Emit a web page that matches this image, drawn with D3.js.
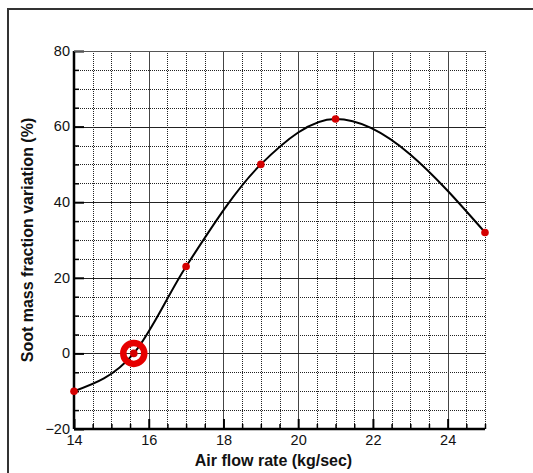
<!DOCTYPE html>
<html>
<head>
<meta charset="utf-8">
<script src="https://cdn.jsdelivr.net/npm/d3@7"></script>
<style>
  html, body { margin: 0; padding: 0; background: #fff; }
  svg { display: block; font-family: "Liberation Sans", Arial, sans-serif; }
</style>
</head>
<body>
<svg id="chart" width="533" height="473"></svg>
<script>
// Air flow rate (kg/sec) vs. soot mass fraction variation (%)
const airFlow = [14, 15.6, 17, 19, 21, 25];
const sootVariation = [-10, 0, 23, 50, 62, 32];
const highlighted = [15.6]; // reference (zero-variation) operating point

const xTicks = [14, 16, 18, 20, 22, 24];
const yTicks = [-20, 0, 20, 40, 60, 80];

const data = airFlow.map((x, i) => ({ x, y: sootVariation[i] }));

const svg = d3.select("#chart");
const W = 533, H = 473;
const m = { left: 74, right: W - 485, top: 51, bottom: H - 429 };

const x = d3.scaleLinear().domain([14, 25]).range([m.left, W - m.right]);
const y = d3.scaleLinear().domain([-20, 80]).range([H - m.bottom, m.top]);

// outer frame
svg.append("rect")
  .attr("x", 8).attr("y", 9)
  .attr("width", W).attr("height", H)
  .attr("fill", "none").attr("stroke", "#333").attr("stroke-width", 2);

const g = svg.append("g");

// minor grid (dotted), every 0.5 in x and 5 in y
const xMinor = d3.range(14.5, 25.01, 0.5).filter(v => Math.abs(v % 2) > 1e-9);
const yMinor = d3.range(-15, 80.01, 5).filter(v => Math.abs(v % 20) > 1e-9);

g.selectAll(".vminor").data(xMinor).join("line")
  .attr("x1", d => Math.round(x(d)) + 0.5).attr("x2", d => Math.round(x(d)) + 0.5)
  .attr("y1", y(80)).attr("y2", y(-20))
  .attr("stroke", "#222").attr("stroke-width", 1).attr("stroke-dasharray", "1,1");

g.selectAll(".hminor").data(yMinor).join("line")
  .attr("y1", d => Math.round(y(d)) + 0.5).attr("y2", d => Math.round(y(d)) + 0.5)
  .attr("x1", x(14)).attr("x2", x(25))
  .attr("stroke", "#222").attr("stroke-width", 1).attr("stroke-dasharray", "1,1");

// major grid (solid)
g.selectAll(".vmajor").data(xTicks.slice(1)).join("line")
  .attr("x1", d => Math.round(x(d)) + 0.5).attr("x2", d => Math.round(x(d)) + 0.5)
  .attr("y1", y(80)).attr("y2", y(-20))
  .attr("stroke", "#444").attr("stroke-width", 1);

g.selectAll(".hmajor").data(yTicks.slice(1)).join("line")
  .attr("y1", d => Math.round(y(d)) + 0.5).attr("y2", d => Math.round(y(d)) + 0.5)
  .attr("x1", x(14)).attr("x2", x(25))
  .attr("stroke", "#222").attr("stroke-width", 1);

// axes with inward ticks
const xAxisMajor = d3.axisBottom(x).tickValues(xTicks).tickSize(-10).tickPadding(6)
  .tickFormat(d3.format("d"));
const xAxisMinor = d3.axisBottom(x).tickValues(xMinor).tickSize(-5).tickFormat("");
const yAxisMajor = d3.axisLeft(y).tickValues(yTicks).tickSize(-10).tickPadding(4)
  .tickFormat(d3.format("d"));
const yAxisMinor = d3.axisLeft(y).tickValues(yMinor).tickSize(-5).tickFormat("");

function styleAxis(sel) {
  sel.select(".domain").attr("stroke", "#000").attr("stroke-width", 2.5);
  sel.selectAll(".tick line").attr("stroke", "#000").attr("stroke-width", 2);
  sel.selectAll(".tick text").attr("fill", "#111").style("font-size", "14.5px")
    .style("font-family", "'Liberation Sans', Arial, sans-serif");
}

svg.append("g").attr("transform", `translate(0,${y(-20)})`).call(xAxisMinor)
  .call(s => s.select(".domain").remove())
  .call(s => s.selectAll(".tick line").attr("stroke", "#000").attr("stroke-width", 1.5));
svg.append("g").attr("transform", `translate(${x(14)},0)`).call(yAxisMinor)
  .call(s => s.select(".domain").remove())
  .call(s => s.selectAll(".tick line").attr("stroke", "#000").attr("stroke-width", 1.5));

const xg = svg.append("g").attr("transform", `translate(0,${y(-20)})`).call(xAxisMajor);
xg.call(styleAxis);
xg.select(".domain").attr("d", `M${x(14)},0H${x(25)}`);

const yg = svg.append("g").attr("transform", `translate(${x(14)},0)`).call(yAxisMajor);
yg.call(styleAxis);
yg.select(".domain").attr("d", `M0,${y(-20)}V${y(80)}`);
yg.selectAll(".tick text").attr("dy", "0.3em");

// top border of plot area
svg.append("line")
  .attr("x1", x(14)).attr("x2", x(25)).attr("y1", y(80) + 0.5).attr("y2", y(80) + 0.5)
  .attr("stroke", "#555").attr("stroke-width", 1);

// fitted curve
const line = d3.line().x(d => x(d.x)).y(d => y(d.y)).curve(d3.curveMonotoneX);
svg.append("path").datum(data)
  .attr("d", line).attr("fill", "none")
  .attr("stroke", "#000").attr("stroke-width", 2);

// highlighted point ring
svg.selectAll(".ring").data(data.filter(d => highlighted.includes(d.x))).join("circle")
  .attr("cx", d => x(d.x)).attr("cy", d => y(d.y)).attr("r", 10.5)
  .attr("fill", "none").attr("stroke", "#e60000").attr("stroke-width", 6.5);

// data points
svg.selectAll(".pt").data(data).join("circle")
  .attr("cx", d => x(d.x)).attr("cy", d => y(d.y)).attr("r", 3.8)
  .attr("fill", "#d40000");

// axis titles
svg.append("text")
  .attr("x", (x(14) + x(25)) / 2 - 6).attr("y", 466)
  .attr("text-anchor", "middle")
  .style("font-size", "16px").style("font-weight", "bold").attr("fill", "#111")
  .text("Air flow rate (kg/sec)");

svg.append("text")
  .attr("transform", `translate(33,${(y(-20) + y(80)) / 2}) rotate(-90)`)
  .attr("text-anchor", "middle")
  .style("font-size", "16px").style("font-weight", "bold").attr("fill", "#111")
  .text("Soot mass fraction variation (%)");
</script>
</body>
</html>
